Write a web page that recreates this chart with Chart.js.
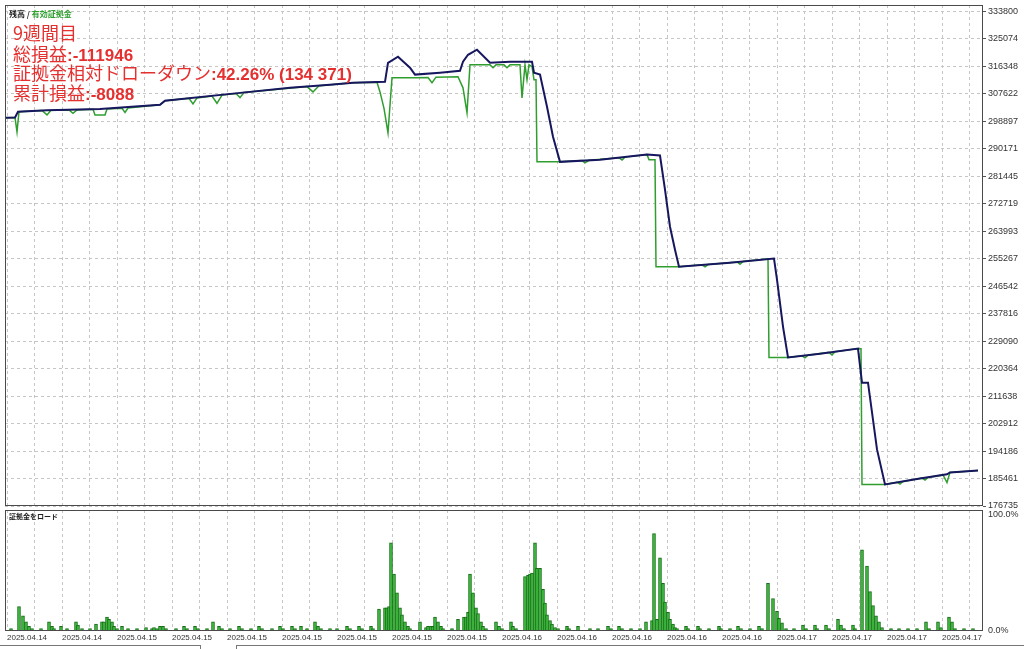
<!DOCTYPE html>
<html>
<head>
<meta charset="utf-8">
<script src="https://cdn.jsdelivr.net/npm/chart.js@4.4.0/dist/chart.umd.min.js"></script>
<style>
  body { margin: 0; background: #fff; width: 1024px; height: 649px; overflow: hidden; position: relative; }
  canvas { position: absolute; left: 0; }
  #topChart { top: 0; }
  #loadChart { top: 509px; }
  .info { position: absolute; left: 13px; color: #e53030; font-family: "Noto Sans CJK JP", sans-serif; font-size: 18px; line-height: 20px; white-space: nowrap; z-index: 2; }
  .info b { font-family: "Liberation Sans", Arial, sans-serif; font-weight: bold; font-size: 17px; }
  .panelLabel { position: absolute; left: 9px; font-family: "Noto Sans CJK JP", sans-serif; font-weight: bold; white-space: nowrap; z-index: 2; color: #222; }
  .tab { position: absolute; top: 645px; height: 6px; border-top: 1px solid #777; }
</style>
</head>
<body>
<canvas id="topChart" width="1024" height="509"></canvas>
<canvas id="loadChart" width="1024" height="140"></canvas>

<div class="panelLabel" style="top:8px; font-size:8px; line-height:12px;">残高 / <span style="color:#2f9e2f">有効証拠金</span></div>
<div class="info" style="top:22px;">9週間目</div>
<div class="info" style="top:43px;">総損益<b>:-111946</b></div>
<div class="info" style="top:62px;">証拠金相対ドローダウン<b>:42.26% (134 371)</b></div>
<div class="info" style="top:82px;">累計損益<b>:-8088</b></div>
<div class="panelLabel" style="top:511px; font-size:7px; line-height:10px;">証拠金をロード</div>
<div class="tab" style="left:0; width:200px; border-right:1px solid #777;"></div>
<div class="tab" style="left:236px; width:788px; border-left:1px solid #777;"></div>

<script>
// ---- データ (x = 時間インデックス) ----
const dateLabels = ["2025.04.14", "2025.04.14", "2025.04.15", "2025.04.15", "2025.04.15", "2025.04.15",
  "2025.04.15", "2025.04.15", "2025.04.15", "2025.04.16", "2025.04.16", "2025.04.16", "2025.04.16",
  "2025.04.16", "2025.04.17", "2025.04.17", "2025.04.17", "2025.04.17"]
const yTickValues = [333800, 325074, 316348, 307622, 298897, 290171, 281445, 272719, 263993, 255267,
  246542, 237816, 229090, 220364, 211638, 202912, 194186, 185461, 176735]

// 残高
const balanceX = [-2, 8, 11, 40, 93, 153, 158, 233, 283, 323, 346, 378, 381, 391, 403, 408, 433, 453, 456, 461,
  470, 483, 503, 525, 527, 533, 540, 546, 553, 593, 640, 653, 658, 663, 668, 672, 723, 767, 770, 776,
  781, 813, 851, 855, 861, 870, 878, 913, 940, 943, 971]
const balanceY = [300000, 300100, 301900, 302400, 302800, 304100, 305400, 307900, 309500, 310500,
  311100, 311400, 317400, 319400, 315900, 313700, 314300, 314900, 317800, 320000,
  321600, 317500, 317800, 317800, 314300, 313700, 303500, 294000, 286000, 286700,
  288300, 288000, 277200, 265400, 258100, 252700, 254000, 255300, 248600, 233700,
  223900, 225100, 226700, 215900, 215900, 194700, 183600, 185500, 186800, 187400, 188000]

// 有効証拠金
const equityX = [-2, 8, 10, 12, 35, 40, 44, 62, 66, 70, 86, 88, 98, 100, 115, 118, 121, 153, 158, 182,
  186, 190, 205, 210, 215, 229, 233, 237, 300, 306, 312, 346, 370, 373, 377, 381, 385, 408, 421, 425,
  429, 451, 456, 460, 463, 483, 486, 489, 497, 500, 503, 513, 515, 518, 520, 522, 525, 527, 529, 530,
  553, 575, 578, 582, 612, 615, 618, 640, 642, 648, 649, 672, 695, 698, 701, 730, 733, 736, 757, 761,
  762, 781, 795, 798, 801, 822, 825, 828, 851, 854, 855, 878, 890, 893, 896, 915, 918, 921, 936, 940,
  943, 971]
const equityY = [300000, 300100, 295500, 301900, 302300, 300900, 302400, 302500, 301400, 302500,
  302700, 300900, 300900, 302800, 303000, 301700, 303100, 304100, 305400, 306200,
  304400, 306300, 306900, 304600, 307200, 307700, 306400, 308000, 309900, 308200,
  310200, 311100, 311300, 308200, 303000, 295200, 312700, 312700, 312800, 311100,
  312900, 313000, 309500, 301600, 316800, 316800, 315900, 316800, 316800, 315900,
  316800, 316800, 306300, 316800, 312100, 316800, 316200, 312100, 312100, 286000,
  286000, 286400, 285700, 286500, 287300, 286600, 287500, 288300, 286700, 286700,
  252700, 252700, 253300, 252700, 253400, 254200, 253500, 254400, 255100, 255200,
  223900, 223900, 224400, 223800, 224600, 225500, 224700, 225700, 226700, 226700,
  183600, 183600, 184300, 183700, 184500, 185600, 185000, 185800, 186600, 184200,
  187400, 188000]

// 証拠金をロード (%)
const loadX = [4, 12, 16, 19, 22, 25, 34, 42, 45, 47, 54, 60, 69, 71, 75, 83, 89, 95, 97, 100,
  102, 105, 107, 110, 115, 121, 130, 139, 145, 147, 150, 153, 156, 159, 169, 177, 180, 188, 191, 200,
  206, 212, 215, 223, 232, 235, 244, 252, 255, 265, 273, 276, 285, 288, 294, 300, 308, 311, 314, 323,
  330, 340, 343, 352, 355, 364, 366, 372, 378, 380, 382, 384, 387, 390, 393, 395, 398, 401, 403, 413,
  419, 421, 424, 426, 428, 431, 434, 436, 445, 451, 457, 459, 461, 463, 466, 469, 471, 474, 476, 479,
  489, 492, 495, 504, 506, 509, 518, 521, 523, 525, 528, 530, 533, 536, 538, 540, 543, 545, 548, 551,
  560, 562, 571, 583, 591, 601, 604, 612, 615, 624, 633, 639, 645, 647, 650, 653, 656, 658, 661, 663,
  666, 668, 670, 679, 681, 691, 693, 702, 712, 714, 723, 731, 734, 743, 752, 755, 761, 766, 770, 772,
  775, 779, 787, 796, 799, 808, 810, 819, 822, 831, 834, 837, 846, 848, 855, 860, 863, 866, 869, 872,
  875, 884, 892, 901, 910, 919, 922, 931, 934, 942, 945, 948, 957, 966]
const loadPct = [2, 21, 13, 8, 4, 2, 2, 8, 4, 2, 4, 2, 8, 5, 2, 2, 6, 8, 8, 12,
  10, 8, 4, 2, 4, 2, 2, 3, 2, 3, 2, 4, 4, 2, 2, 4, 2, 4, 2, 2,
  8, 4, 2, 2, 4, 2, 2, 4, 2, 2, 4, 2, 4, 2, 4, 2, 8, 4, 2, 2,
  2, 4, 2, 4, 2, 4, 2, 19, 20, 20, 21, 76, 49, 33, 20, 14, 8, 4, 2, 8,
  3, 4, 4, 4, 12, 8, 4, 2, 2, 10, 12, 12, 16, 49, 33, 20, 15, 8, 4, 2,
  8, 4, 2, 8, 4, 2, 47, 48, 49, 50, 76, 54, 54, 36, 24, 14, 9, 6, 3, 2,
  4, 2, 4, 2, 2, 4, 2, 4, 2, 2, 2, 8, 9, 84, 10, 63, 41, 25, 16, 10,
  6, 3, 2, 4, 2, 4, 2, 2, 4, 2, 2, 4, 2, 2, 4, 2, 41, 28, 17, 11,
  7, 2, 2, 5, 2, 5, 2, 5, 2, 10, 5, 2, 5, 2, 70, 56, 34, 22, 13, 8,
  3, 2, 2, 2, 2, 8, 2, 8, 3, 12, 8, 2, 2, 2]

// 縦グリッドの間隔
const gridStep = 27.5
const gridCount = 36

Chart.defaults.font.family = "'Liberation Sans', Arial, sans-serif"
Chart.defaults.color = "#333"

function gridTicks(scale) {
  const ticks = []
  for (let i = 0; i < gridCount; i++) ticks.push({ value: i * gridStep })
  scale.ticks = ticks
}

// 右側の目盛り軸: 幅固定、ラベルのはみ出し分の余白なし
function fitRightAxis(s) {
  s.width = 41
  s.paddingTop = 0
  s.paddingBottom = 0
}

// パネルの枠線
const framePlugin = {
  id: "frame",
  afterDraw(chart) {
    const { ctx, chartArea: a } = chart
    ctx.save()
    ctx.strokeStyle = "#4a4a4a"
    ctx.lineWidth = 1
    ctx.strokeRect(Math.round(a.left) + 0.5, Math.round(a.top) + 0.5,
      Math.round(a.right - a.left) - 1, Math.round(a.bottom - a.top) - 1)
    ctx.restore()
  },
}

const gridColor = "#c6c6c6"

// ---- 残高 / 有効証拠金 ----
new Chart(document.getElementById("topChart").getContext("2d"), {
  type: "line",
  data: {
    datasets: [
      {
        label: "残高",
        data: balanceX.map((x, i) => ({ x, y: balanceY[i] })),
        borderColor: "#17175f",
        borderWidth: 2,
        pointRadius: 0,
        tension: 0,
      },
      {
        label: "有効証拠金",
        data: equityX.map((x, i) => ({ x, y: equityY[i] })),
        borderColor: "#2f9e2f",
        borderWidth: 1.5,
        pointRadius: 0,
        tension: 0,
      },
    ],
  },
  options: {
    responsive: false,
    animation: false,
    layout: { padding: { left: 5, top: 5, right: 0, bottom: 3 } },
    plugins: { legend: { display: false }, tooltip: { enabled: false } },
    scales: {
      x: {
        type: "linear",
        min: -2,
        max: 976,
        afterBuildTicks: gridTicks,
        afterFit: (s) => { s.height = 0; s.paddingLeft = 0; s.paddingRight = 0 },
        ticks: { display: false },
        grid: { color: gridColor, drawTicks: false },
        border: { display: false, dash: [3, 3] },
      },
      y: {
        position: "right",
        min: 176735,
        max: 335800,
        afterBuildTicks: (s) => { s.ticks = yTickValues.map((v) => ({ value: v })) },
        afterFit: fitRightAxis,
        ticks: { callback: (v) => String(v), font: { size: 9 }, padding: 2 },
        grid: { color: gridColor, tickColor: "#555", tickLength: 3 },
        border: { display: false, dash: [3, 3] },
      },
    },
  },
  plugins: [framePlugin],
})

// ---- 証拠金をロード ----
new Chart(document.getElementById("loadChart").getContext("2d"), {
  type: "bar",
  data: {
    datasets: [
      {
        label: "証拠金をロード",
        data: loadX.map((x, i) => ({ x, y: loadPct[i] })),
        backgroundColor: "#3dbb3d",
        borderColor: "#176d17",
        borderWidth: 1,
        barThickness: 3,
      },
    ],
  },
  options: {
    responsive: false,
    animation: false,
    layout: { padding: { left: 5, top: 1, right: 0, bottom: 0 } },
    plugins: { legend: { display: false }, tooltip: { enabled: false } },
    scales: {
      x: {
        type: "linear",
        min: -2,
        max: 976,
        offset: false,
        afterBuildTicks: gridTicks,
        afterFit: (s) => { s.height = 18; s.paddingLeft = 0; s.paddingRight = 0 },
        ticks: {
          autoSkip: false,
          maxRotation: 0,
          align: "start",
          padding: 2,
          font: { size: 8 },
          callback: (v, i) => (i % 2 === 0 ? dateLabels[i / 2] : ""),
        },
        grid: { color: gridColor, drawTicks: false, offset: false },
        border: { display: false, dash: [3, 3] },
      },
      y: {
        position: "right",
        min: 0,
        max: 104.3,
        afterBuildTicks: (s) => { s.ticks = [{ value: 0 }, { value: 100 }] },
        afterFit: fitRightAxis,
        ticks: { callback: (v) => v.toFixed(1) + "%", font: { size: 9 }, padding: 5 },
        grid: { display: false, drawTicks: false },
        border: { display: false },
      },
    },
  },
  plugins: [framePlugin],
})
</script>
</body>
</html>
